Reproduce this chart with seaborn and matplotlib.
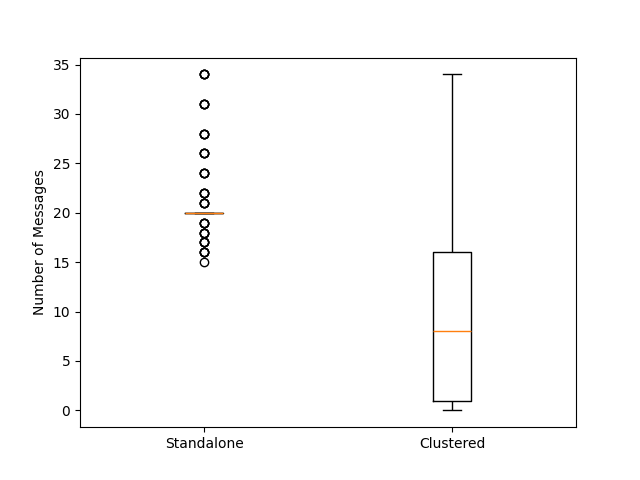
import matplotlib
matplotlib.use("Agg")
import matplotlib.pyplot as plt
import seaborn as sns
import pandas as pd

categories = ["Standalone", "Clustered"]
standalone = [20] * 150 + [34] * 4 + [31] * 4 + [28] * 4 + [26] * 4 + [24] * 4 + \
    [22] * 4 + [21] * 4 + [19] * 4 + [18] * 4 + [17] * 4 + [16] * 4 + [15]
clustered = [0, 0, 0, 1, 1, 1, 2, 4, 5, 7, 8, 9, 10, 12, 14, 16, 19, 22, 25, 30, 34]
y_label = "Number of Messages"

df = pd.DataFrame({
    "group": [categories[0]] * len(standalone) + [categories[1]] * len(clustered),
    "value": standalone + clustered,
})

fig, ax = plt.subplots(figsize=(6.4, 4.8), dpi=100)
sns.boxplot(data=df, x="group", y="value", order=categories, ax=ax,
            width=0.15, fill=False, color="black", linewidth=1, whis=1.5,
            boxprops=dict(color="black", linewidth=1),
            whiskerprops=dict(color="black", linewidth=1),
            capprops=dict(color="black", linewidth=1),
            medianprops=dict(color="#ff7f0e", linewidth=1),
            flierprops=dict(marker="o", markerfacecolor="none",
                            markeredgecolor="black", markersize=6, linestyle="none"))
ax.set_xlim(-0.5, 1.5)
ax.set_xlabel("")
ax.set_ylabel(y_label)
ax.set_yticks([0, 5, 10, 15, 20, 25, 30, 35])
fig.savefig("out.png", dpi=100)
